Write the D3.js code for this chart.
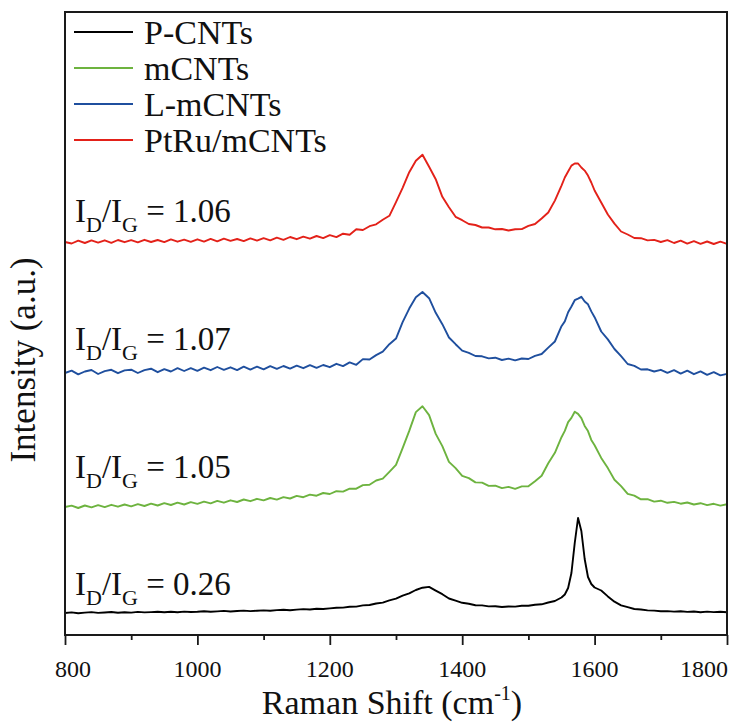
<!DOCTYPE html>
<html>
<head>
<meta charset="utf-8">
<script src="https://cdn.jsdelivr.net/npm/d3@7"></script>
<style>
  html, body { margin: 0; padding: 0; background: #fff; }
  svg { display: block; }
  svg text { font-family: "Liberation Serif", "DejaVu Serif", serif; }
</style>
</head>
<body>
<svg id="chart" width="737" height="722"></svg>
<script>
// Raman shift grid (cm-1); finer steps around the sharp G band
const shift = [
  800, 810, 820, 830, 840, 850, 860, 870, 880, 890,
  900, 910, 920, 930, 940, 950, 960, 970, 980, 990,
  1000, 1010, 1020, 1030, 1040, 1050, 1060, 1070, 1080, 1090,
  1100, 1110, 1120, 1130, 1140, 1150, 1160, 1170, 1180, 1190,
  1200, 1210, 1220, 1230, 1240, 1250, 1260, 1270, 1280, 1290,
  1300, 1310, 1320, 1330, 1340, 1350, 1360, 1370, 1380, 1390,
  1400, 1410, 1420, 1430, 1440, 1450, 1460, 1470, 1480, 1490,
  1500, 1510, 1520, 1530, 1540, 1550,
  1555, 1560, 1565, 1570, 1575, 1580, 1585, 1590, 1595, 1600,
  1610, 1620, 1630, 1640, 1650, 1660, 1670, 1680, 1690, 1700,
  1710, 1720, 1730, 1740, 1750, 1760, 1770, 1780, 1790, 1800
];

// Stacked intensities (a.u., already offset)
const pCNTs = [
  22.0, 22.6, 21.8, 22.4, 22.9, 22.1, 22.5, 23.0, 22.3, 22.7,
  22.4, 23.1, 22.6, 22.9, 23.3, 22.7, 23.2, 22.8, 23.4, 23.0,
  23.3, 23.8, 23.2, 23.6, 24.1, 23.5, 24.0, 24.4, 23.9, 24.3,
  24.6, 24.2, 24.9, 25.3, 24.8, 25.4, 25.9, 25.5, 26.2, 26.0,
  26.6, 27.2, 27.4, 28.3, 28.4, 29.6, 30.0, 31.5, 32.4, 34.6,
  36.3, 39.3, 41.6, 45.0, 47.3, 48.1, 44.4, 40.8, 36.5, 34.3,
  32.2, 31.3, 29.8, 29.6, 28.6, 28.7, 28.0, 28.5, 28.4, 29.2,
  29.2, 30.3, 30.7, 32.5, 34.0, 37.5,
  40.5, 47.0, 62.0, 92.0, 117.0, 104.0, 76.0, 58.0, 51.0, 47.5,
  44.5, 38.6, 33.3, 29.7, 27.8, 26.0, 25.5, 24.6, 24.4, 23.8,
  23.9, 23.4, 23.8, 23.1, 23.5, 22.8, 23.4, 22.9, 23.3, 22.7
];

const mCNTs = [
  128.0, 129.4, 127.0, 129.5, 127.6, 129.9, 127.9, 130.2, 128.3, 130.5,
  128.6, 130.9, 129.0, 131.4, 129.5, 131.8, 130.0, 132.3, 130.5, 132.9,
  131.1, 133.4, 131.7, 134.1, 132.3, 134.7, 133.0, 135.5, 133.8, 136.2,
  134.6, 137.0, 135.4, 137.9, 136.5, 139.1, 137.8, 140.4, 139.3, 142.0,
  141.0, 143.8, 143.4, 146.4, 146.3, 149.9, 150.3, 154.5, 156.3, 163.1,
  170.1, 186.9, 204.1, 222.9, 228.7, 219.9, 201.1, 188.9, 173.1, 166.9,
  159.1, 156.9, 152.6, 152.4, 149.1, 149.4, 146.9, 148.1, 146.2, 148.6,
  148.7, 153.8, 159.2, 171.8, 182.2, 197.8,
  204.1, 212.9, 217.1, 223.3, 221.1, 216.8, 209.1, 203.9, 195.1, 189.8,
  177.1, 166.9, 155.2, 148.9, 141.1, 139.4, 135.7, 135.8, 133.4, 134.3,
  132.2, 133.1, 131.3, 132.5, 130.5, 131.8, 129.9, 131.2, 129.4, 130.7
];

const lmCNTs = [
  262.0, 264.4, 260.6, 263.5, 265.0, 261.0, 263.9, 265.2, 261.8, 264.6,
  265.3, 262.0, 264.9, 266.3, 262.8, 265.9, 263.5, 266.8, 264.0, 266.9,
  264.2, 267.3, 264.8, 268.0, 265.2, 267.7, 264.9, 268.3, 265.4, 268.4,
  265.7, 268.8, 266.1, 269.0, 266.4, 269.3, 266.8, 269.9, 267.1, 270.0,
  267.8, 271.2, 268.9, 272.6, 270.2, 275.9, 275.5, 279.9, 283.4, 290.8,
  296.4, 312.8, 326.4, 337.8, 343.0, 336.8, 322.2, 310.8, 297.5, 290.8,
  284.4, 282.2, 279.0, 278.7, 276.6, 277.3, 275.0, 276.4, 274.6, 276.5,
  276.0, 279.2, 281.0, 287.4, 293.5, 308.8,
  313.6, 322.8, 328.5, 334.8, 336.4, 338.2, 333.5, 330.7, 323.6, 317.8,
  303.5, 295.6, 286.0, 278.8, 271.0, 269.2, 265.5, 265.7, 263.5, 265.2,
  262.1, 264.8, 261.4, 264.3, 260.8, 263.6, 260.1, 262.8, 259.6, 261.2
];

const ptRu = [
  393.0, 391.5, 394.3, 392.0, 394.6, 392.4, 394.7, 392.2, 395.0, 392.8,
  394.8, 392.6, 395.2, 393.0, 395.0, 392.9, 395.6, 393.3, 395.3, 393.2,
  395.7, 393.4, 396.1, 393.7, 396.4, 394.1, 396.0, 393.9, 396.6, 394.4,
  396.8, 394.7, 397.3, 395.2, 398.0, 395.8, 398.3, 396.3, 399.0, 396.9,
  399.8, 397.9, 401.3, 400.2, 405.8, 405.0, 408.8, 410.7, 415.3, 419.2,
  432.8, 447.2, 462.8, 474.2, 480.3, 468.2, 455.8, 438.2, 427.8, 418.2,
  414.8, 411.0, 410.0, 407.5, 407.5, 405.7, 406.0, 404.5, 405.7, 405.9,
  409.1, 411.0, 416.5, 422.5, 434.4, 449.4,
  457.5, 463.5, 469.4, 471.5, 471.5, 467.5, 464.4, 459.4, 452.5, 444.5,
  432.5, 420.5, 411.4, 403.5, 400.5, 397.0, 396.8, 394.6, 395.1, 393.0,
  394.9, 392.0, 394.3, 391.4, 393.8, 391.1, 393.5, 391.0, 393.3, 391.2
];

const seriesNames = ["P-CNTs", "mCNTs", "L-mCNTs", "PtRu/mCNTs"];
const ratios = ["0.26", "1.05", "1.07", "1.06"];
const majorTicks = [800, 1000, 1200, 1400, 1600, 1800];
const minorTicks = [900, 1100, 1300, 1500, 1700];

// ---- layout & style ----
const seriesValues = [pCNTs, mCNTs, lmCNTs, ptRu];
const colors = ["#000000", "#6db33f", "#1f4f9e", "#e32119"];
const labelLift = [18, 29, 23, 20];
const serif = '"Liberation Serif", "DejaVu Serif", serif';

const plot = { left: 65, right: 727, top: 12, bottom: 635 };

const svg = d3.select("#chart");

const x = d3.scaleLinear().domain([800, 1800]).range([plot.left, plot.right]);
const y = d3.scaleLinear().domain([0, 623]).range([plot.bottom, plot.top]);

// spectra
const line = d3.line()
  .x((d, i) => x(shift[i]))
  .y(d => y(d));

svg.append("g")
  .selectAll("path")
  .data(seriesValues)
  .join("path")
  .attr("d", d => line(d))
  .attr("fill", "none")
  .attr("stroke", (d, i) => colors[i])
  .attr("stroke-width", 1.9)
  .attr("stroke-linejoin", "round");

// frame
svg.append("rect")
  .attr("x", plot.left).attr("y", plot.top)
  .attr("width", plot.right - plot.left)
  .attr("height", plot.bottom - plot.top)
  .attr("fill", "none")
  .attr("stroke", "#1a1a1a")
  .attr("stroke-width", 2);

// x axis: major and minor ticks pointing outward
const axisMajor = d3.axisBottom(x).tickValues(majorTicks).tickSize(10).tickFormat("");
const axisMinor = d3.axisBottom(x).tickValues(minorTicks).tickSize(5).tickFormat("");

const gMajor = svg.append("g").attr("transform", `translate(0,${plot.bottom})`).call(axisMajor);
const gMinor = svg.append("g").attr("transform", `translate(0,${plot.bottom})`).call(axisMinor);
[gMajor, gMinor].forEach(g => {
  g.select(".domain").remove();
  g.selectAll(".tick line").attr("stroke", "#1a1a1a").attr("stroke-width", 1.8);
});

// tick labels; the outermost ones are kept inside the page
const lastTick = majorTicks[majorTicks.length - 1];
svg.append("g")
  .selectAll("text")
  .data(majorTicks)
  .join("text")
  .attr("x", d => d === majorTicks[0] ? x(d) - 10 : d === lastTick ? x(d) + 1 : x(d))
  .attr("y", 677)
  .attr("text-anchor", d => d === majorTicks[0] ? "start" : d === lastTick ? "end" : "middle")
  .attr("font-family", serif)
  .attr("font-size", 24)
  .attr("fill", "#111")
  .text(d => d);

// x axis title
const xt = svg.append("text")
  .attr("x", (plot.left + plot.right) / 2 - 4)
  .attr("y", 714)
  .attr("text-anchor", "middle")
  .attr("font-family", serif)
  .attr("font-size", 34)
  .attr("fill", "#111");
xt.append("tspan").text("Raman Shift (cm");
xt.append("tspan").attr("font-size", 20).attr("dy", -14).text("-1");
xt.append("tspan").attr("dy", 14).text(")");

// y axis title
svg.append("text")
  .attr("transform", "translate(35,360) rotate(-90)")
  .attr("text-anchor", "middle")
  .attr("font-family", serif)
  .attr("font-size", 35)
  .attr("fill", "#111")
  .text("Intensity (a.u.)");

// legend
const legendY = [32, 68, 104, 140];
const legend = svg.append("g")
  .selectAll("g")
  .data(seriesNames)
  .join("g")
  .attr("transform", (d, i) => `translate(0,${legendY[i]})`);
legend.append("line")
  .attr("x1", 74).attr("x2", 133)
  .attr("y1", 0).attr("y2", 0)
  .attr("stroke", (d, i) => colors[i])
  .attr("stroke-width", 1.8);
legend.append("text")
  .attr("x", 144).attr("y", 12)
  .attr("font-family", serif)
  .attr("font-size", 34)
  .attr("fill", "#111")
  .text(d => d);

// I_D/I_G annotations above each spectrum
const ann = svg.append("g")
  .selectAll("text")
  .data(ratios)
  .join("text")
  .attr("x", 75)
  .attr("y", (d, i) => y(seriesValues[i][0]) - labelLift[i])
  .attr("font-family", serif)
  .attr("font-size", 33)
  .attr("fill", "#111");
ann.append("tspan").text("I");
ann.append("tspan").attr("font-size", 22).attr("dy", 10).text("D");
ann.append("tspan").attr("dy", -10).text("/I");
ann.append("tspan").attr("font-size", 22).attr("dy", 10).text("G");
ann.append("tspan").attr("dy", -10).text(d => " = " + d);
</script>
</body>
</html>
